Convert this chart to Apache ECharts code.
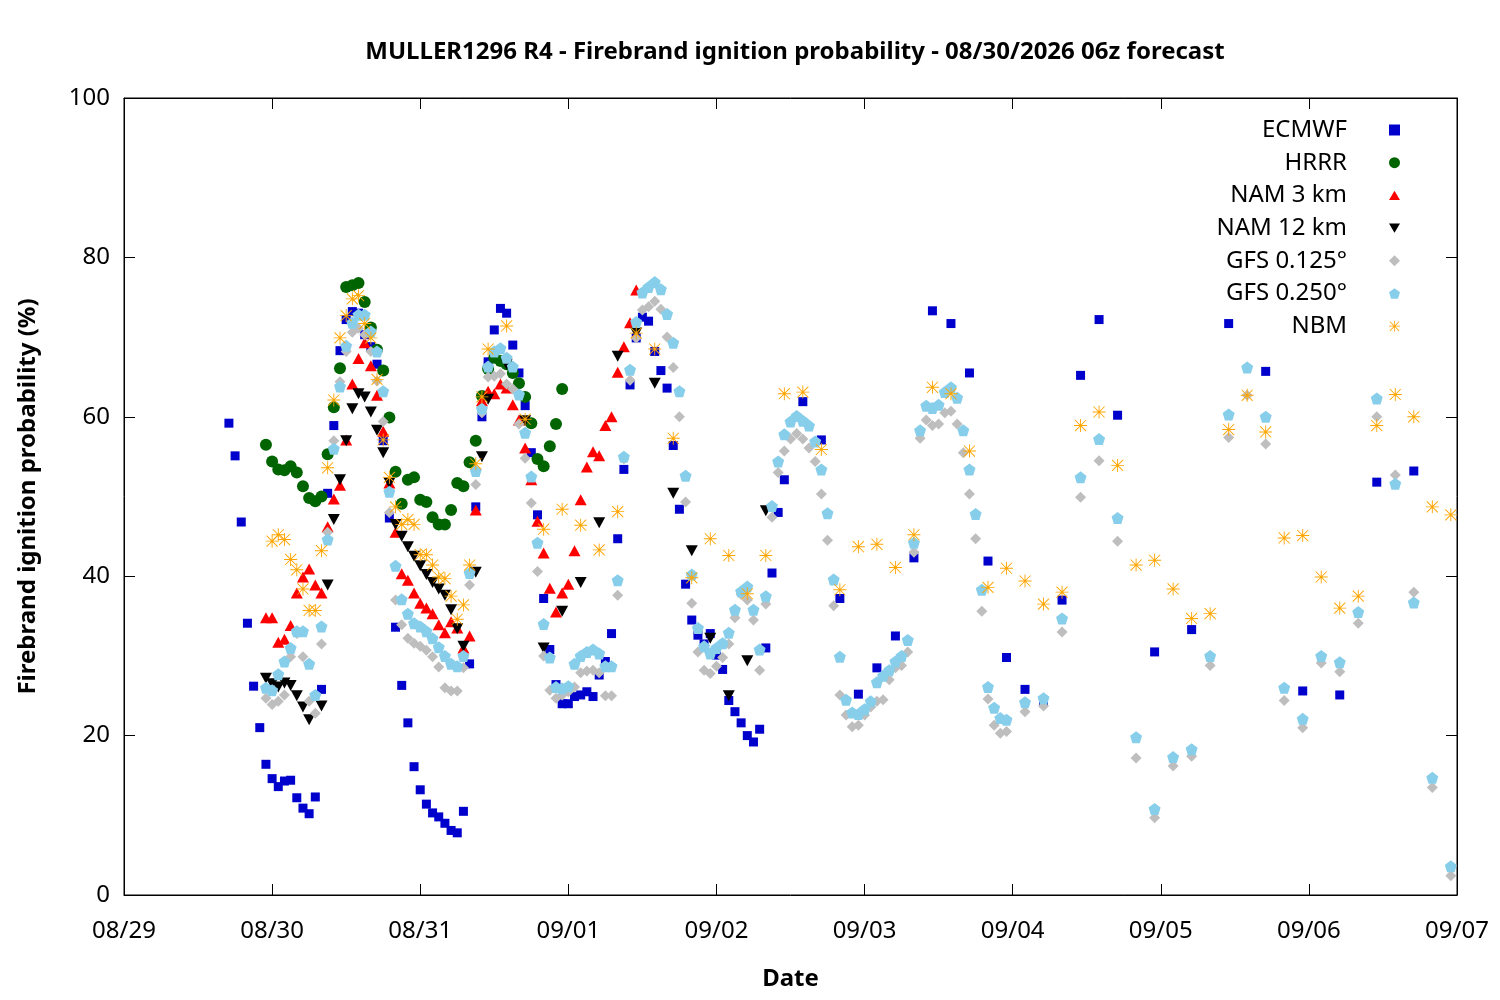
<!DOCTYPE html>
<html>
<head>
<meta charset="utf-8">
<script src="https://cdn.jsdelivr.net/npm/echarts@6/dist/echarts.min.js"></script>
<style>
  html, body { margin: 0; padding: 0; background: #fff; }
  #chart { width: 1500px; height: 1000px; }
</style>
</head>
<body>
<div id="chart"></div>
<script>
// hours since 08/29 00z, value in %
const dateLabels = ['08/29', '08/30', '08/31', '09/01', '09/02', '09/03', '09/04', '09/05', '09/06', '09/07']

const ecmwf = [
  [17, 59.2], [18, 55.1], [19, 46.8], [20, 34.1], [21, 26.2], [22, 21.0], [23, 16.4], [24, 14.6], [25, 13.6],
  [26, 14.3], [27, 14.4], [28, 12.2], [29, 10.9], [30, 10.2], [31, 12.3], [32, 25.8], [33, 50.4], [34, 58.9],
  [35, 68.3], [36, 72.2], [37, 73.2], [38, 73.0], [39, 70.3], [40, 68.8], [41, 66.6], [42, 57.0], [43, 47.3],
  [44, 33.6], [45, 26.3], [46, 21.6], [47, 16.1], [48, 13.2], [49, 11.4], [50, 10.3], [51, 9.8], [52, 9.0],
  [53, 8.1], [54, 7.8], [55, 10.5], [56, 29.0], [57, 48.7], [58, 60.0], [59, 66.9], [60, 70.9], [61, 73.6],
  [62, 73.0], [63, 69.0], [64, 65.5], [65, 61.4], [66, 55.5], [67, 47.7], [68, 37.2], [69, 30.8], [70, 26.4],
  [71, 24.0], [72, 24.0], [73, 24.9], [74, 25.1], [75, 25.5], [76, 24.9], [77, 27.6], [78, 29.3], [79, 32.8],
  [80, 44.7], [81, 53.4], [82, 64.0], [83, 69.9], [84, 72.5], [85, 72.0], [86, 68.2], [87, 65.8], [88, 63.6],
  [89, 56.4], [90, 48.4], [91, 39.0], [92, 34.5], [93, 32.6], [94, 31.5], [95, 32.8], [96, 30.1], [97, 28.3],
  [98, 24.4], [99, 23.0], [100, 21.6], [101, 20.0], [102, 19.2], [103, 20.8], [104, 31.0], [105, 40.4],
  [106, 48.0], [107, 52.1], [110, 61.9], [113, 57.1], [116, 37.2], [119, 25.2], [122, 28.5], [125, 32.5],
  [128, 42.3], [131, 73.3], [134, 71.7], [137, 65.5], [140, 41.9], [143, 29.8], [146, 25.8], [149, 24.3],
  [152, 37.0], [155, 65.2], [158, 72.2], [161, 60.2], [167, 30.5], [173, 33.3], [179, 71.7], [185, 65.7],
  [191, 25.6], [197, 25.1], [203, 51.8], [209, 53.2]
]

const hrrr = [
  [23, 56.5], [24, 54.4], [25, 53.4], [26, 53.3], [27, 53.8], [28, 53.0], [29, 51.3], [30, 49.8], [31, 49.4],
  [32, 50.0], [33, 55.3], [34, 61.2], [35, 66.1], [36, 76.3], [37, 76.5], [38, 76.8], [39, 74.4], [40, 71.2],
  [41, 68.4], [42, 65.8], [43, 59.9], [44, 53.1], [45, 49.1], [46, 52.1], [47, 52.4], [48, 49.6], [49, 49.3],
  [50, 47.4], [51, 46.5], [52, 46.5], [53, 48.3], [54, 51.7], [55, 51.3], [56, 54.3], [57, 57.0], [58, 62.6],
  [59, 66.0], [60, 67.4], [61, 67.0], [62, 66.6], [63, 65.5], [64, 64.2], [65, 62.5], [66, 59.2], [67, 54.7],
  [68, 53.8], [69, 56.3], [70, 59.1], [71, 63.5]
]

const nam3 = [
  [23, 34.8], [24, 34.8], [25, 31.7], [26, 32.1], [27, 33.8], [28, 37.9], [29, 39.9], [30, 40.9], [31, 38.9],
  [32, 37.9], [33, 46.2], [34, 49.7], [35, 51.4], [36, 57.1], [37, 64.1], [38, 67.3], [39, 69.3], [40, 66.4],
  [41, 62.7], [42, 58.2], [43, 51.7], [44, 45.5], [45, 40.3], [46, 39.5], [47, 37.9], [48, 36.6], [49, 36.0],
  [50, 35.3], [51, 33.9], [52, 32.9], [53, 34.3], [54, 33.5], [55, 31.0], [56, 32.5], [57, 48.3], [58, 62.0],
  [59, 63.2], [60, 62.9], [61, 64.1], [62, 63.6], [63, 61.5], [64, 59.6], [65, 56.1], [66, 52.1], [67, 46.9],
  [68, 42.9], [69, 38.5], [70, 35.5], [71, 37.9], [72, 39.0], [73, 43.2], [74, 49.6], [75, 53.7], [76, 55.6],
  [77, 55.1], [78, 58.9], [79, 60.0], [80, 65.6], [81, 68.8], [82, 71.8], [83, 75.9]
]

const nam12 = [
  [23, 27.2], [24, 26.5], [25, 26.1], [26, 26.6], [27, 26.3], [28, 25.0], [29, 23.6], [30, 22.0], [32, 23.7],
  [33, 38.9], [34, 47.1], [35, 52.1], [36, 57.0], [37, 61.0], [38, 62.9], [39, 62.5], [40, 60.6], [41, 58.3],
  [42, 55.5], [43, 51.7], [44, 46.5], [45, 45.0], [46, 43.7], [47, 42.5], [48, 41.3], [49, 40.2], [50, 39.2],
  [51, 38.4], [52, 37.6], [53, 35.8], [54, 33.4], [55, 31.2], [57, 40.5], [58, 55.0], [59, 62.2], [62, 66.6],
  [65, 59.5], [68, 31.0], [71, 35.6], [74, 39.2], [77, 46.7], [80, 67.6], [83, 70.5], [86, 64.2], [89, 50.4],
  [92, 43.2], [95, 32.2], [98, 25.0], [101, 29.4], [104, 48.2]
]

const gfs0125 = [
  [23, 24.7], [24, 23.9], [25, 24.3], [26, 25.1], [27, 29.9], [28, 32.8], [29, 29.9], [30, 24.3], [31, 22.8],
  [32, 31.5], [33, 45.5], [34, 57.0], [35, 64.4], [36, 68.2], [37, 70.6], [38, 71.1], [39, 70.3], [40, 68.2],
  [41, 64.5], [42, 59.4], [43, 48.0], [44, 37.0], [45, 33.9], [46, 32.2], [47, 31.6], [48, 31.2], [49, 30.7],
  [50, 29.9], [51, 28.6], [52, 26.0], [53, 25.6], [54, 25.6], [55, 28.5], [56, 38.9], [57, 51.5], [58, 60.5],
  [59, 65.0], [60, 65.1], [61, 65.4], [62, 64.1], [63, 63.5], [64, 59.1], [65, 54.8], [66, 49.2], [67, 40.6],
  [68, 30.0], [69, 25.7], [70, 24.7], [71, 25.1], [72, 25.5], [73, 26.1], [74, 27.9], [75, 28.1], [76, 28.2],
  [77, 27.9], [78, 25.0], [79, 25.0], [80, 37.6], [81, 54.7], [82, 64.6], [83, 69.9], [84, 73.4], [85, 73.8],
  [86, 74.5], [87, 73.5], [88, 70.0], [89, 66.2], [90, 60.0], [91, 49.3], [92, 36.6], [93, 30.5], [94, 28.2],
  [95, 27.8], [96, 28.7], [97, 29.8], [98, 31.5], [99, 34.8], [100, 37.7], [101, 37.0], [102, 34.5], [103, 28.2],
  [104, 36.5], [105, 47.4], [106, 53.0], [107, 55.7], [108, 57.2], [109, 57.9], [110, 57.2], [111, 56.1],
  [112, 54.4], [113, 50.3], [114, 44.5], [115, 36.3], [116, 25.1], [117, 22.6], [118, 21.1], [119, 21.3],
  [120, 22.6], [121, 23.6], [122, 24.3], [123, 24.5], [124, 27.0], [125, 28.5], [126, 28.8], [127, 30.5],
  [128, 43.0], [129, 57.3], [130, 59.6], [131, 58.9], [132, 59.1], [133, 60.5], [134, 60.7], [135, 59.1],
  [136, 55.5], [137, 50.3], [138, 44.7], [139, 35.6], [140, 24.6], [141, 21.3], [142, 20.3], [143, 20.5],
  [146, 23.0], [149, 23.7], [152, 33.0], [155, 49.9], [158, 54.5], [161, 44.4], [164, 17.2], [167, 9.7],
  [170, 16.2], [173, 17.4], [176, 28.8], [179, 57.4], [182, 62.7], [185, 56.6], [188, 24.4], [191, 21.0],
  [194, 29.1], [197, 28.0], [200, 34.1], [203, 60.0], [206, 52.7], [209, 38.0], [212, 13.5], [215, 2.4]
]

const gfs0250 = [
  [23, 26.0], [24, 25.7], [25, 27.7], [26, 29.3], [27, 31.0], [28, 33.1], [29, 33.1], [30, 29.0], [31, 25.1],
  [32, 33.7], [33, 44.6], [34, 56.0], [35, 63.8], [36, 68.9], [37, 71.8], [38, 72.8], [39, 72.8], [40, 70.7],
  [41, 68.2], [42, 63.2], [43, 50.6], [44, 41.3], [45, 37.1], [46, 35.3], [47, 34.1], [48, 33.7], [49, 33.1],
  [50, 32.2], [51, 31.1], [52, 30.0], [53, 29.0], [54, 28.7], [55, 30.0], [56, 40.4], [57, 53.2], [58, 61.0],
  [59, 66.3], [60, 68.2], [61, 68.6], [62, 67.4], [63, 66.3], [64, 62.8], [65, 58.0], [66, 52.5], [67, 44.2],
  [68, 34.0], [69, 29.8], [70, 26.1], [71, 25.9], [72, 26.2], [73, 29.0], [74, 30.0], [75, 30.5], [76, 30.8],
  [77, 30.3], [78, 28.7], [79, 28.7], [80, 39.5], [81, 55.0], [82, 65.9], [83, 71.9], [84, 75.6], [85, 76.3],
  [86, 76.9], [87, 76.0], [88, 72.9], [89, 69.3], [90, 63.2], [91, 52.6], [92, 40.2], [93, 33.5], [94, 31.2],
  [95, 30.3], [96, 31.0], [97, 31.6], [98, 32.9], [99, 35.8], [100, 38.1], [101, 38.7], [102, 35.8], [103, 30.8],
  [104, 37.5], [105, 48.8], [106, 54.4], [107, 57.8], [108, 59.4], [109, 60.1], [110, 59.5], [111, 58.9],
  [112, 56.9], [113, 53.4], [114, 47.9], [115, 39.6], [116, 29.9], [117, 24.5], [118, 22.9], [119, 22.7],
  [120, 23.3], [121, 24.3], [122, 26.7], [123, 27.5], [124, 28.2], [125, 29.3], [126, 30.0], [127, 32.0],
  [128, 44.2], [129, 58.3], [130, 61.4], [131, 61.1], [132, 61.5], [133, 63.1], [134, 63.7], [135, 62.4],
  [136, 58.3], [137, 53.4], [138, 47.8], [139, 38.3], [140, 26.1], [141, 23.5], [142, 22.2], [143, 22.0],
  [146, 24.2], [149, 24.7], [152, 34.7], [155, 52.4], [158, 57.2], [161, 47.3], [164, 19.8], [167, 10.8],
  [170, 17.3], [173, 18.3], [176, 30.0], [179, 60.3], [182, 66.2], [185, 60.0], [188, 26.0], [191, 22.1],
  [194, 30.0], [197, 29.2], [200, 35.5], [203, 62.3], [206, 51.6], [209, 36.7], [212, 14.7], [215, 3.6]
]

const nbm = [
  [24, 44.4], [25, 45.2], [26, 44.6], [27, 42.1], [28, 40.8], [29, 38.4], [30, 35.7], [31, 35.7], [32, 43.2],
  [33, 53.6], [34, 62.1], [35, 69.9], [36, 72.7], [37, 74.8], [38, 75.2], [39, 71.7], [40, 69.9], [41, 64.7],
  [42, 57.1], [43, 52.4], [44, 48.7], [45, 46.5], [46, 47.1], [47, 46.5], [48, 42.7], [49, 42.7], [50, 41.4],
  [51, 39.9], [52, 39.7], [53, 37.5], [54, 34.6], [55, 36.4], [56, 41.4], [57, 54.1], [58, 62.5], [59, 68.5],
  [62, 71.4], [65, 59.7], [68, 45.9], [71, 48.4], [74, 46.4], [77, 43.3], [80, 48.1], [83, 70.5], [86, 68.5],
  [89, 57.3], [92, 39.8], [95, 44.7], [98, 42.6], [101, 37.8], [104, 42.6], [107, 62.9], [110, 63.1],
  [113, 55.9], [116, 38.3], [119, 43.7], [122, 44.0], [125, 41.1], [128, 45.2], [131, 63.7], [134, 62.9],
  [137, 55.7], [140, 38.6], [143, 41.0], [146, 39.4], [149, 36.5], [152, 38.0], [155, 58.9], [158, 60.6],
  [161, 53.9], [164, 41.4], [167, 42.0], [170, 38.4], [173, 34.7], [176, 35.3], [179, 58.4], [182, 62.7],
  [185, 58.1], [188, 44.8], [191, 45.1], [194, 39.9], [197, 36.0], [200, 37.5], [203, 58.9], [206, 62.8],
  [209, 60.0], [212, 48.7], [215, 47.7]
]

const FONT = 'Noto Sans'

// gnuplot-like marker shapes
const pentagon = 'path://M10 0 L19.5 6.9 L15.9 18.1 L4.1 18.1 L0.5 6.9 Z'
const triDown = 'path://M0 0 L20 0 L10 17 Z'
const triUp = 'path://M10 0 L20 17 L0 17 Z'
const asterisk = 'path://M0 9.3 L20 9.3 L20 10.7 L0 10.7 Z M9.3 0 L10.7 0 L10.7 20 L9.3 20 Z ' +
  'M2 1 L19 18 L18 19 L1 2 Z M18 1 L19 2 L2 19 L1 18 Z'

function scatter(name, data, color, symbol, size) {
  return {
    name,
    type: 'scatter',
    data,
    symbol,
    symbolSize: size,
    itemStyle: { color, opacity: 1 },
    emphasis: { disabled: true },
    animation: false
  }
}

// ticks point into the plot, as in gnuplot
function ticks() {
  return { show: true, inside: true, length: 11, lineStyle: { color: '#000', width: 1 } }
}

const chart = echarts.init(document.getElementById('chart'), null, { renderer: 'canvas' })

chart.setOption({
  backgroundColor: '#fff',
  animation: false,
  title: {
    text: 'MULLER1296 R4 - Firebrand ignition probability - 08/30/2026 06z forecast',
    left: 790,
    textAlign: 'center',
    top: 35,
    textStyle: { fontFamily: FONT, fontSize: 24, fontWeight: 'bold', color: '#000' }
  },
  legend: {
    orient: 'vertical',
    right: 95,
    top: 113,
    align: 'right',
    itemWidth: 11,
    itemHeight: 11,
    itemGap: 8.7,
    textStyle: { fontFamily: FONT, fontSize: 24, color: '#000', lineHeight: 24, padding: [0, 37, 0, 0] },
    data: ['ECMWF', 'HRRR', 'NAM 3 km', 'NAM 12 km', 'GFS 0.125°', 'GFS 0.250°', 'NBM']
  },
  grid: { left: 124, right: 43, top: 98, bottom: 105, show: true, borderColor: '#000', borderWidth: 1 },
  xAxis: [
    {
      type: 'value', min: 0, max: 216, interval: 24,
      name: 'Date', nameLocation: 'middle', nameGap: 72,
      nameTextStyle: { fontFamily: FONT, fontSize: 24, fontWeight: 'bold', color: '#000' },
      axisLine: { show: true, onZero: false, lineStyle: { color: '#000' } },
      axisTick: ticks(),
      splitLine: { show: false },
      axisLabel: {
        fontFamily: FONT, fontSize: 24, color: '#000', margin: 24,
        formatter: v => dateLabels[Math.round(v / 24)]
      }
    },
    {
      type: 'value', min: 0, max: 216, interval: 24, position: 'top',
      axisLine: { show: true, onZero: false, lineStyle: { color: '#000' } },
      axisTick: ticks(), axisLabel: { show: false }, splitLine: { show: false }
    }
  ],
  yAxis: [
    {
      type: 'value', min: 0, max: 100, interval: 20,
      name: 'Firebrand ignition probability (%)', nameLocation: 'middle', nameGap: 84,
      nameTextStyle: { fontFamily: FONT, fontSize: 24, fontWeight: 'bold', color: '#000' },
      axisLine: { show: true, onZero: false, lineStyle: { color: '#000' } },
      axisTick: ticks(),
      splitLine: { show: false },
      axisLabel: { fontFamily: FONT, fontSize: 24, color: '#000', margin: 14 }
    },
    {
      type: 'value', min: 0, max: 100, interval: 20, position: 'right',
      axisLine: { show: true, onZero: false, lineStyle: { color: '#000' } },
      axisTick: ticks(), axisLabel: { show: false }, splitLine: { show: false }
    }
  ],
  series: [
    scatter('ECMWF', ecmwf, '#0000cc', 'rect', 9),
    scatter('HRRR', hrrr, '#006400', 'circle', 12),
    scatter('NAM 3 km', nam3, '#ff0000', triUp, [12, 11]),
    scatter('NAM 12 km', nam12, '#000000', triDown, [12, 11]),
    scatter('GFS 0.125°', gfs0125, '#bebebe', 'diamond', [11, 11]),
    scatter('GFS 0.250°', gfs0250, '#87ceeb', pentagon, 12),
    scatter('NBM', nbm, '#ffa500', asterisk, 13)
  ]
})
</script>
</body>
</html>
